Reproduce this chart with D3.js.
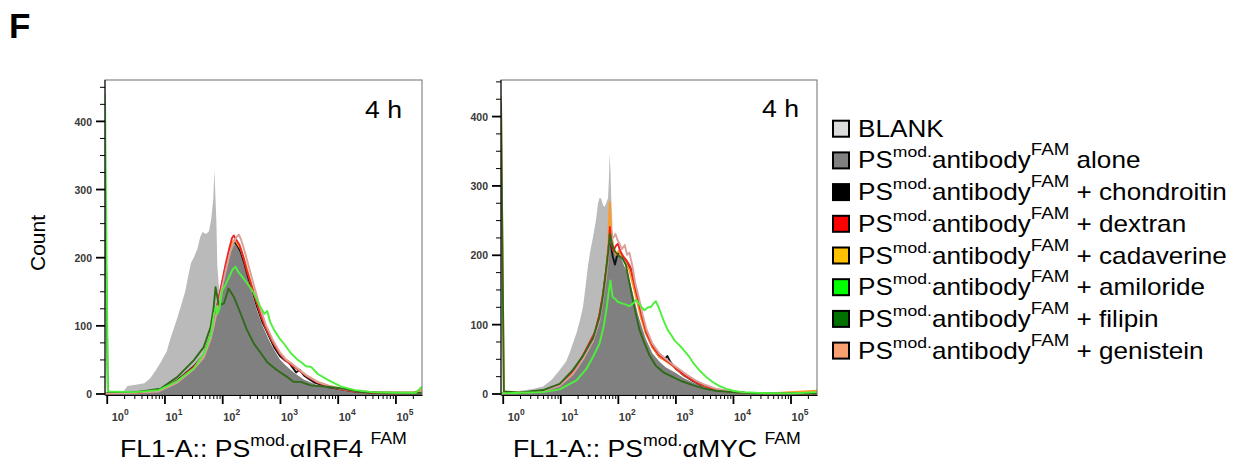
<!DOCTYPE html>
<html><head><meta charset="utf-8">
<script src="https://cdn.jsdelivr.net/npm/d3@7"></script>
<style>
body{margin:0;background:#fff}
svg{display:block}
text{font-family:"Liberation Sans",Arial,Helvetica,sans-serif}
</style>
</head><body>
<svg id="chart" width="1233" height="464"></svg>
<script>
// ---------------- DATA ----------------
// each series: [log10(FL1-A), count]
const seriesKeys   = ["blank","alone","chondroitin","dextran","cadaverine","amiloride","filipin","genistein"];
const legendSuffix = [""," alone"," + chondroitin"," + dextran"," + cadaverine"," + amiloride"," + filipin"," + genistein"];
const xTickExponents = [0,1,2,3,4,5];
const yTickValues = [0,100,200,300,400];
const panelTargets = ["IRF4","MYC"];
const timeLabel = "4 h";
const panelLetter = "F";
const yLabel = "Count";

const irf4Blank = [[-0.03,0],[0.12,2],[0.3,4],[0.36,11],[0.5,13],[0.65,15],[0.75,22],[0.85,34],[0.93,45],[1.04,62],[1.1,80],[1.2,105],[1.28,127],[1.36,150],[1.42,176],[1.46,192],[1.51,200],[1.57,212],[1.62,230],[1.66,237],[1.72,234],[1.77,238],[1.81,256],[1.845,285],[1.865,328],[1.882,290],[1.9,250],[1.915,188],[1.94,160],[1.97,140],[2.05,110],[2.15,75],[2.3,40],[2.5,18],[2.8,8],[3.2,3],[3.8,0],[5.46,0]];
const irf4Alone = [[-0.03,0],[0.5,1],[0.9,4],[1.1,10],[1.22,17],[1.4,29],[1.51,37],[1.62,47],[1.7,60],[1.8,82],[1.88,112],[1.97,146],[2.06,182],[2.14,206],[2.2,218],[2.24,220],[2.3,213],[2.38,190],[2.45,166],[2.52,146],[2.6,122],[2.7,99],[2.8,80],[2.9,64],[3.0,50],[3.1,41],[3.25,30],[3.42,20],[3.65,12],[3.85,8],[4.06,5],[4.3,2],[4.5,0],[5.46,0]];
const irf4Chondroitin = [[-0.03,0],[0.5,1],[0.9,4],[1.22,19],[1.51,40],[1.68,56],[1.8,84],[1.88,115],[1.97,150],[2.06,186],[2.12,205],[2.18,219],[2.22,222],[2.27,216],[2.32,208],[2.38,192],[2.45,170],[2.52,152],[2.6,128],[2.7,104],[2.8,86],[2.9,68],[3.0,55],[3.08,49],[3.15,46],[3.22,38],[3.28,31],[3.34,35],[3.42,26],[3.6,16],[3.85,9],[4.06,6],[4.3,3],[4.6,1],[5.0,0],[5.46,0]];
const irf4Dextran = [[-0.03,0],[0.5,1],[0.9,4],[1.22,18],[1.51,39],[1.68,57],[1.8,85],[1.88,116],[1.97,152],[2.06,190],[2.12,212],[2.17,228],[2.2,232],[2.24,226],[2.3,218],[2.36,202],[2.42,182],[2.5,160],[2.58,138],[2.68,112],[2.78,92],[2.9,72],[3.0,58],[3.1,48],[3.2,42],[3.3,36],[3.45,26],[3.65,16],[3.85,10],[4.06,6],[4.3,3],[4.6,1],[5.0,0],[5.46,1]];
const irf4Cadaverine = [[-0.03,0],[0.5,1],[0.9,4],[1.22,18],[1.51,38],[1.68,55],[1.8,83],[1.88,113],[1.97,148],[2.06,184],[2.12,205],[2.18,222],[2.22,226],[2.26,220],[2.32,212],[2.4,192],[2.48,168],[2.56,145],[2.66,118],[2.76,96],[2.88,75],[3.0,60],[3.1,50],[3.2,44],[3.3,36],[3.45,27],[3.65,17],[3.85,11],[4.06,7],[4.3,4],[4.6,2],[5.0,1],[5.3,1],[5.46,6]];
const irf4Amiloride = [[-0.03,440],[0.02,3],[0.5,2],[0.9,5],[1.22,18],[1.51,37],[1.68,58],[1.8,85],[1.86,117],[1.895,128],[1.915,117],[1.95,124],[2.0,151],[2.06,160],[2.12,171],[2.18,182],[2.23,186],[2.28,178],[2.32,174],[2.44,161],[2.55,147],[2.64,130],[2.73,117],[2.78,121],[2.83,105],[2.9,93],[3.0,80],[3.07,73],[3.19,59],[3.3,50],[3.38,45],[3.45,40],[3.54,39],[3.65,29],[3.83,20],[4.06,10],[4.3,5],[4.6,2],[5.0,1],[5.35,1],[5.46,10]];
const irf4Filipin = [[-0.03,300],[0.02,2],[0.5,2],[0.93,7],[1.22,24],[1.51,49],[1.68,68],[1.8,98],[1.85,125],[1.885,156],[1.94,130],[2.03,132],[2.11,154],[2.2,142],[2.32,117],[2.43,93],[2.55,73],[2.67,59],[2.78,46],[2.95,34],[3.13,24],[3.24,17],[3.36,17],[3.53,12],[3.82,10],[4.11,7],[4.4,2],[4.8,1],[5.46,1]];
const irf4Genistein = [[-0.03,0],[0.5,1],[0.9,3],[1.22,16],[1.51,36],[1.68,53],[1.8,80],[1.88,110],[1.97,145],[2.06,180],[2.14,208],[2.2,222],[2.25,230],[2.29,233],[2.33,225],[2.4,205],[2.48,180],[2.56,155],[2.66,125],[2.76,100],[2.88,78],[3.0,60],[3.1,50],[3.2,44],[3.32,36],[3.45,27],[3.65,17],[3.85,11],[4.06,7],[4.3,4],[4.6,2],[5.0,1],[5.46,1]];

const mycBlank = [[-0.03,0],[0.1,2],[0.3,4],[0.5,6],[0.7,10],[0.85,20],[0.99,34],[1.1,46],[1.16,58],[1.28,87],[1.34,105],[1.395,125],[1.44,155],[1.48,183],[1.52,205],[1.57,226],[1.62,250],[1.655,274],[1.68,282],[1.71,281],[1.74,272],[1.77,269],[1.8,275],[1.83,282],[1.845,310],[1.858,346],[1.872,320],[1.886,280],[1.91,235],[1.94,205],[2.0,170],[2.1,120],[2.2,80],[2.35,45],[2.5,25],[2.8,10],[3.2,3],[4.0,0],[5.46,0]];
const mycAlone = [[-0.03,0],[0.3,1],[0.7,4],[0.99,10],[1.22,28],[1.4,52],[1.57,77],[1.68,110],[1.74,139],[1.8,175],[1.83,200],[1.856,222],[1.88,218],[1.92,210],[1.97,200],[2.0,204],[2.05,198],[2.1,186],[2.16,175],[2.22,158],[2.28,138],[2.35,114],[2.42,95],[2.49,78],[2.6,58],[2.72,46],[2.83,38],[3.0,30],[3.15,22],[3.3,16],[3.6,7],[3.9,3],[4.2,1],[4.5,0],[5.46,0]];
const mycChondroitin = [[-0.03,0],[0.3,1],[0.7,4],[0.99,12],[1.22,30],[1.4,54],[1.51,68],[1.6,85],[1.68,112],[1.74,140],[1.8,178],[1.84,210],[1.862,236],[1.885,212],[1.91,198],[1.95,186],[1.99,200],[2.04,204],[2.09,196],[2.15,190],[2.22,180],[2.28,158],[2.35,134],[2.42,108],[2.49,87],[2.6,67],[2.72,53],[2.8,49],[2.86,54],[2.91,46],[3.0,36],[3.15,26],[3.3,18],[3.45,12],[3.6,8],[3.9,3],[4.2,1],[4.6,0],[5.46,0]];
const mycDextran = [[-0.03,0],[0.3,1],[0.7,4],[0.99,12],[1.22,32],[1.33,45],[1.4,56],[1.5,72],[1.6,88],[1.68,114],[1.74,142],[1.8,180],[1.84,212],[1.862,240],[1.885,218],[1.92,205],[1.96,212],[2.0,216],[2.04,206],[2.09,198],[2.15,192],[2.22,182],[2.28,160],[2.35,136],[2.42,110],[2.49,89],[2.6,69],[2.72,55],[2.83,48],[2.9,44],[3.0,37],[3.15,27],[3.3,19],[3.45,13],[3.6,8],[3.9,3],[4.2,1],[4.6,0],[5.46,0]];
const mycCadaverine = [[-0.03,430],[0.02,3],[0.3,1],[0.7,4],[0.99,12],[1.22,30],[1.4,54],[1.5,70],[1.6,87],[1.68,112],[1.74,142],[1.8,182],[1.835,215],[1.852,262],[1.862,276],[1.875,240],[1.895,222],[1.93,206],[1.97,200],[2.02,206],[2.07,196],[2.13,190],[2.2,178],[2.26,158],[2.33,134],[2.4,110],[2.48,88],[2.6,67],[2.72,53],[2.83,47],[2.95,40],[3.05,33],[3.2,24],[3.35,17],[3.5,11],[3.7,6],[3.9,3],[4.2,1],[4.6,0],[5.46,4]];
const mycAmiloride = [[-0.03,0],[0.3,1],[0.7,2],[0.99,6],[1.28,19],[1.45,35],[1.57,53],[1.68,72],[1.75,95],[1.8,120],[1.84,145],[1.87,163],[1.89,150],[1.91,139],[1.96,136],[2.0,132],[2.07,130],[2.14,128],[2.2,126],[2.27,130],[2.32,135],[2.38,128],[2.46,120],[2.52,124],[2.58,125],[2.62,130],[2.66,133],[2.71,124],[2.75,115],[2.81,102],[2.87,91],[2.93,84],[2.98,77],[3.04,72],[3.1,67],[3.17,60],[3.24,53],[3.32,43],[3.41,34],[3.52,25],[3.64,17],[3.76,11],[3.875,7],[4.0,4],[4.16,2],[4.4,1],[5.0,0],[5.46,2]];
const mycFilipin = [[-0.03,420],[0.02,3],[0.3,1],[0.7,5],[0.99,14],[1.22,34],[1.4,55],[1.57,80],[1.68,110],[1.74,140],[1.8,180],[1.84,210],[1.862,230],[1.9,215],[1.95,205],[2.02,198],[2.08,195],[2.14,185],[2.2,160],[2.26,135],[2.32,112],[2.375,92],[2.45,75],[2.55,55],[2.66,40],[2.8,30],[2.95,24],[3.1,18],[3.3,12],[3.5,7],[3.7,4],[4.0,2],[4.4,0],[5.46,0]];
const mycGenistein = [[-0.03,0],[0.3,1],[0.7,4],[0.99,11],[1.22,28],[1.4,50],[1.57,76],[1.68,105],[1.74,135],[1.8,170],[1.84,205],[1.862,225],[1.89,222],[1.93,226],[1.96,230],[1.99,222],[2.03,216],[2.07,208],[2.12,214],[2.16,200],[2.2,203],[2.25,185],[2.3,160],[2.36,140],[2.43,114],[2.5,92],[2.6,72],[2.72,58],[2.83,50],[2.95,42],[3.05,36],[3.2,27],[3.35,19],[3.5,13],[3.7,7],[3.9,4],[4.2,1],[4.6,0],[5.46,1]];

// ---------------- STYLE ----------------
const plotColors = {blank:"#bababa", alone:"#808080", chondroitin:"#111111", dextran:"#f02424",
  cadaverine:"#ff9a26", amiloride:"#4cf03a", filipin:"#2f6a18", genistein:"#d9a19a"};
const legendColors = {blank:"#dcdcdc", alone:"#808080", chondroitin:"#000000", dextran:"#ff0000",
  cadaverine:"#ffc000", amiloride:"#00ff00", filipin:"#007000", genistein:"#f7a072"};
const lineOrder = ["chondroitin","cadaverine","dextran","genistein","filipin","amiloride"];

const panels = [
  {target: panelTargets[0], x0:105, x1:422, yMax:460, titleX:120, titleW:287, timeX:365, timeY:117.5,
   data:{blank:irf4Blank, alone:irf4Alone, chondroitin:irf4Chondroitin, dextran:irf4Dextran,
         cadaverine:irf4Cadaverine, amiloride:irf4Amiloride, filipin:irf4Filipin, genistein:irf4Genistein}},
  {target: panelTargets[1], x0:501, x1:817, yMax:452, titleX:513, titleW:288, timeX:762, timeY:117,
   data:{blank:mycBlank, alone:mycAlone, chondroitin:mycChondroitin, dextran:mycDextran,
         cadaverine:mycCadaverine, amiloride:mycAmiloride, filipin:mycFilipin, genistein:mycGenistein}}
];
const plotTop = 80, plotBottom = 395, zeroY = 393.5;

const svg = d3.select("#chart");

// stretch a text horizontally so that its width matches a target width
function fitWidth(sel, x, y, targetW) {
  const w = sel.node().getBBox().width;
  const s = w > 0 ? targetW / w : 1;
  sel.attr("transform", `translate(${x},${y}) scale(${s},1)`);
}

svg.append("text").attr("x", 9).attr("y", 38).attr("font-size", 35).attr("font-weight", "bold")
  .text(panelLetter);

svg.append("text").attr("transform", "translate(45,243) rotate(-90)")
  .attr("text-anchor", "middle").attr("font-size", 21).text(yLabel);

panels.forEach((p, pi) => {
  const x = d3.scaleLog().domain([Math.pow(10, -0.03), Math.pow(10, 5.46)]).range([p.x0, p.x1]);
  const y = d3.scaleLinear().domain([0, p.yMax]).range([zeroY, plotTop]);
  const g = svg.append("g");
  const clipId = "clip" + pi;
  g.append("clipPath").attr("id", clipId).append("rect")
    .attr("x", p.x0).attr("y", plotTop).attr("width", p.x1 - p.x0).attr("height", plotBottom - plotTop);

  const plot = g.append("g").attr("clip-path", `url(#${clipId})`);
  const area = d3.area().x(d => x(Math.pow(10, d[0]))).y0(plotBottom).y1(d => y(d[1]));
  const line = d3.line().x(d => x(Math.pow(10, d[0]))).y(d => y(d[1]));

  ["blank","alone"].forEach(k => {
    plot.append("path").attr("d", area(p.data[k])).attr("fill", plotColors[k]).attr("stroke", "none");
  });
  lineOrder.forEach(k => {
    plot.append("path").attr("d", line(p.data[k])).attr("fill", "none")
      .attr("stroke", plotColors[k]).attr("stroke-width", 1.9).attr("stroke-linejoin", "round");
  });

  // frame
  g.append("rect").attr("x", p.x0).attr("y", plotTop).attr("width", p.x1 - p.x0).attr("height", plotBottom - plotTop)
    .attr("fill", "none").attr("stroke", "#6e6e6e").attr("stroke-width", 1);

  // y axis
  const yMinor = d3.range(25, p.yMax, 25).filter(v => v % 100 !== 0);
  const ya = g.append("g").attr("transform", `translate(${p.x0},0)`)
    .call(d3.axisLeft(y).tickValues(yTickValues).tickSize(9).tickSizeOuter(0).tickPadding(4)
      .tickFormat(d3.format("d")));
  ya.select(".domain").attr("stroke", "#000").attr("d", `M0,${plotBottom}V${plotTop}`);
  ya.selectAll(".tick line").attr("stroke", "#000").attr("stroke-width", 1.8);
  ya.selectAll(".tick text").attr("font-size", 10.5).attr("font-weight", "bold").attr("fill", "#383838")
    .attr("font-family", "Liberation Sans, Arial, sans-serif").attr("dy", "0.4em");
  const ym = g.append("g").attr("transform", `translate(${p.x0},0)`)
    .call(d3.axisLeft(y).tickValues(yMinor).tickSize(5).tickFormat(""));
  ym.select(".domain").remove();
  ym.selectAll(".tick line").attr("stroke", "#000").attr("stroke-width", 1);

  // x axis
  const xMajor = xTickExponents.map(e => Math.pow(10, e));
  const xMinor = [];
  for (let e = 0; e <= 5; e++) for (let k = 2; k <= 9; k++) {
    const v = k * Math.pow(10, e);
    if (v < Math.pow(10, 5.46)) xMinor.push(v);
  }
  const xa = g.append("g").attr("transform", `translate(0,${plotBottom})`)
    .call(d3.axisBottom(x).tickValues(xMajor).tickSize(9).tickSizeOuter(0).tickFormat(""));
  xa.select(".domain").attr("stroke", "#000");
  xa.selectAll(".tick line").attr("stroke", "#000").attr("stroke-width", 1.8);
  const xm = g.append("g").attr("transform", `translate(0,${plotBottom})`)
    .call(d3.axisBottom(x).tickValues(xMinor).tickSize(4).tickFormat(""));
  xm.select(".domain").remove();
  xm.selectAll(".tick line").attr("stroke", "#000").attr("stroke-width", 1);

  xTickExponents.forEach((e, i) => {
    const t = g.append("text").attr("x", x(Math.pow(10, e)) + (i === 0 ? 5 : 1))
      .attr("y", 421).attr("font-size", 11).attr("font-weight", "bold").attr("fill", "#383838");
    t.append("tspan").text("10");
    t.append("tspan").attr("dy", -6).attr("font-size", 8.5).text(String(e));
  });

  // time label
  svg.append("text").attr("x", p.timeX).attr("y", p.timeY).attr("font-size", 23)
    .attr("textLength", 37).attr("lengthAdjust", "spacingAndGlyphs").text(timeLabel);

  // axis title
  const tt = svg.append("text").attr("font-size", 24).style("white-space", "pre");
  tt.append("tspan").text("FL1-A:: PS");
  tt.append("tspan").attr("font-size", 16).attr("dy", -11).text("mod.");
  tt.append("tspan").attr("dy", 11).text("\u03B1" + p.target + " ");
  tt.append("tspan").attr("font-size", 16).attr("dy", -13).text("FAM");
  fitWidth(tt, p.titleX, 457, p.titleW);
});

// legend
let legendScale = 1;
seriesKeys.forEach((k, i) => {
  const by = 136.7 + i * 31.7;
  svg.append("rect").attr("x", 833).attr("y", by - 16).attr("width", 16).attr("height", 16)
    .attr("fill", legendColors[k]).attr("stroke", "#000").attr("stroke-width", 2);
  const t = svg.append("text").attr("class", "legtext").attr("font-size", 23).style("white-space", "pre")
    .attr("data-y", by);
  if (k === "blank") {
    t.text("BLANK");
  } else {
    t.append("tspan").text("PS");
    t.append("tspan").attr("font-size", 15.5).attr("dy", -11).text("mod.");
    t.append("tspan").attr("dy", 11).text("antibody");
    t.append("tspan").attr("font-size", 16.5).attr("dy", -13).text("FAM");
    t.append("tspan").attr("dy", 13).text(legendSuffix[i]);
  }
  if (k === "chondroitin") legendScale = 369 / t.node().getBBox().width;
});
svg.selectAll(".legtext").each(function() {
  const t = d3.select(this);
  t.attr("transform", `translate(858,${t.attr("data-y")}) scale(${legendScale},1)`);
});
</script>
</body></html>
